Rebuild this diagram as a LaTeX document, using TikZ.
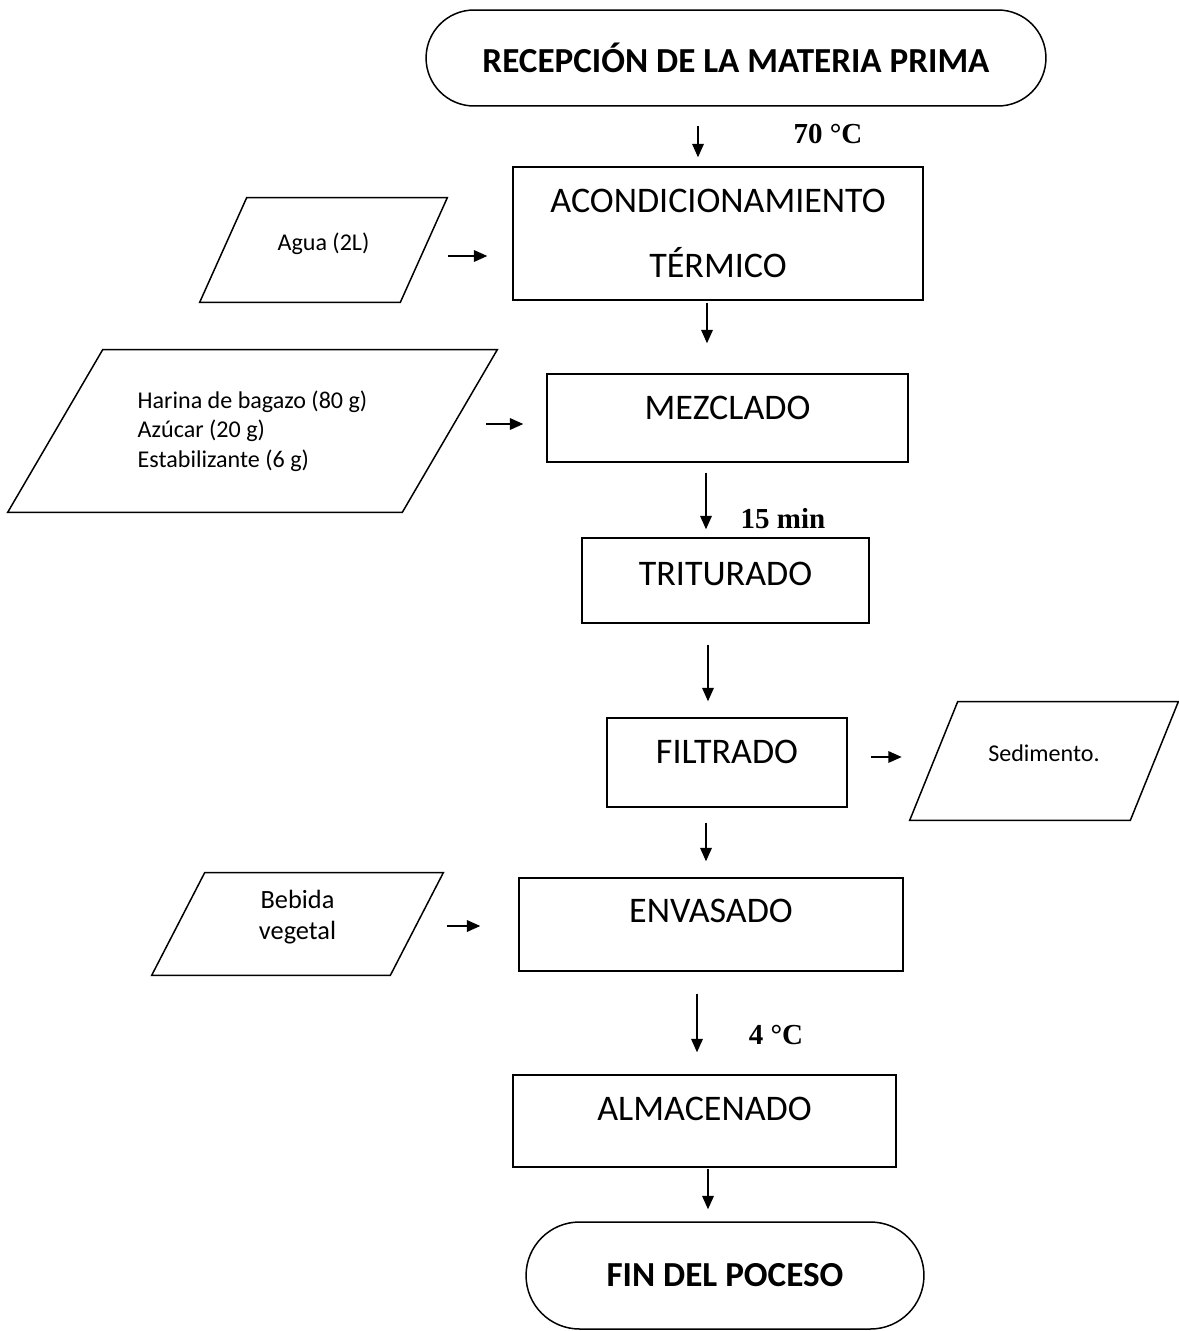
\documentclass[tikz,border=0pt]{standalone}
\usepackage{fontspec}
\setmainfont{Carlito}
\newfontfamily\timesfont{Liberation Serif}
\usetikzlibrary{arrows.meta}

\begin{document}
\begin{tikzpicture}[x=0.02cm,y=-0.02cm,
    procbox/.style={draw, line width=0.85pt, align=center, font=\fontsize{20.5}{37}\selectfont},
    termbox/.style={draw, line width=0.85pt, font=\bfseries\fontsize{20}{24}\selectfont},
    databox/.style={align=center, font=\fontsize{13.7}{16.8}\selectfont},
    condlabel/.style={font=\timesfont\bfseries\fontsize{16.5}{20}\selectfont},
    flow/.style={line width=0.8pt, -{Triangle[length=7.6pt,width=6.6pt]}}]
  \useasboundingbox (0,0) rectangle (1178,1331);

  % main column
  \node[termbox, minimum width=12.4cm, minimum height=1.92cm, rounded corners=0.96cm] (rec) at (736,58) {RECEPCIÓN DE LA MATERIA PRIMA};
  \node[procbox, minimum width=8.2cm, minimum height=2.66cm] (acon) at (718,233.5) {ACONDICIONAMIENTO\\TÉRMICO};
  \node[procbox, minimum width=7.22cm, minimum height=1.76cm, text depth=0.4cm] (mez) at (727.5,418) {MEZCLADO};
  \node[procbox, minimum width=5.74cm, minimum height=1.7cm, text depth=0.26cm] (trit) at (725.5,580.5) {TRITURADO};
  \node[procbox, minimum width=4.8cm, minimum height=1.78cm, text depth=0.42cm] (fil) at (727,762.5) {FILTRADO};
  \node[procbox, minimum width=7.68cm, minimum height=1.86cm, text depth=0.54cm] (env) at (711,924.5) {ENVASADO};
  \node[procbox, minimum width=7.66cm, minimum height=1.84cm, text depth=0.48cm] (alm) at (704.5,1121) {ALMACENADO};
  \node[termbox, minimum width=7.96cm, minimum height=2.14cm, rounded corners=1.07cm] (fin) at (725,1275.5) {FIN DEL POCESO};

  % inputs and outputs
  \node[databox, minimum width=4.94cm, minimum height=2.08cm, text depth=0.32cm] (agua) at (323.5,250) {Agua (2L)};
  \node[databox, minimum width=9.78cm, minimum height=3.24cm, align=left] (ingr) at (252.5,431) {Harina de bagazo (80 g)\\Azúcar (20 g)\\Estabilizante (6 g)};
  \node[databox, minimum width=5.36cm, minimum height=2.36cm, text depth=0.32cm] (sed) at (1044,761) {Sedimento.};
  \node[databox, minimum width=5.82cm, minimum height=2.04cm, text depth=0.36cm, font=\fontsize{15}{17.5}\selectfont] (beb) at (297.5,924) {Bebida\\vegetal};
  \foreach \n/\o in {agua/47, ingr/95, sed/48, beb/53}
    \draw[line width=0.85pt] ([xshift=\o*0.02cm]\n.north west) -- (\n.north east)
      -- ([xshift=-\o*0.02cm]\n.south east) -- (\n.south west) -- cycle;

  % conditions
  \node[condlabel] (t70) at (828,134) {70 °C};
  \node[condlabel] (t15) at (783,519) {15 min};
  \node[condlabel] (t4) at (776,1035) {4 °C};

  % vertical flow
  \foreach \a/\b/\x/\s/\e in {rec/acon/698/19/9, acon/mez/707/2/30, mez/trit/706/10/8, trit/fil/708/21/16, fil/env/706/15/16, env/alm/697/22/22, alm/fin/708/1/12}{
    \coordinate (ax) at (\x,0);
    \draw[flow, shorten <=\s*0.02cm, shorten >=\e*0.02cm] (\a.south -| ax) -- (\b.north -| ax);
  }
  % side flow
  \foreach \a/\b/\y/\s/\e in {agua/acon/256/1/25, ingr/mez/424/-11/23, fil/sed/757/23/8, beb/env/926/4/38}{
    \coordinate (ay) at (0,\y);
    \draw[flow, shorten <=\s*0.02cm, shorten >=\e*0.02cm] (\a.east |- ay) -- (\b.west |- ay);
  }
\end{tikzpicture}
\end{document}
